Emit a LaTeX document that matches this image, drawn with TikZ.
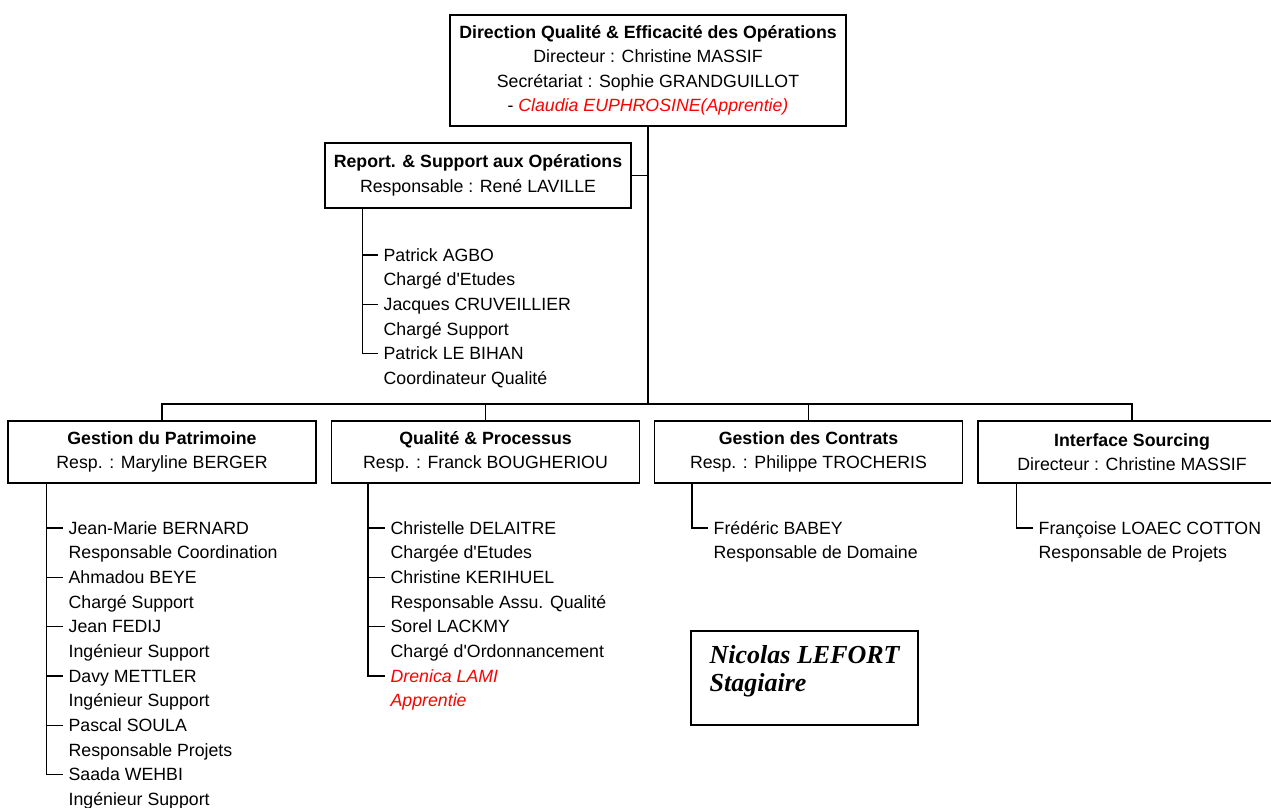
\documentclass[tikz,border=0pt]{standalone}
\usepackage{fontspec}
\newfontfamily\arial{Liberation Sans}
\newfontfamily\tnr{Liberation Serif}
\begin{document}
\begin{tikzpicture}[x=0.75pt,y=-0.75pt,line width=1pt]
\tikzset{
 txt/.style={font=\arial\fontsize{13.3}{18.4}\selectfont},
 box/.style={draw, txt, inner sep=0pt, align=center, minimum height=46.5pt, minimum width=231pt},
 mem/.style={txt, anchor=west, inner xsep=3.75pt, inner ysep=0pt, text height=9.5pt, text depth=0pt},
 app/.style={mem, text=red, font=\arial\fontsize{13.3}{18.4}\selectfont\itshape},
 link/.style={draw=black, line width=1pt}
}
\useasboundingbox (0,0) rectangle (1271,807);
\fill[white] (0,0) rectangle (1271,807);

% main boxes
\node[box, minimum width=297pt, minimum height=83.25pt] (dir) at (648,70.5)
 {\textbf{Direction Qualité \& Efficacité des Opérations}\\ Directeur : Christine MASSIF\\ Secrétariat : Sophie GRANDGUILLOT\\ - {\color{red}\itshape Claudia EUPHROSINE(Apprentie)}};
\node[box, minimum width=229.5pt, minimum height=48.75pt] (rep) at (478,175.5)
 {\textbf{Report. \& Support aux Opérations}\\ Responsable : René LAVILLE};
\node[box] (gp) at (162,452) {\textbf{Gestion du Patrimoine}\\ Resp. : Maryline BERGER};
\node[box] (qp) at (485.5,452) {\textbf{Qualité \& Processus}\\ Resp. : Franck BOUGHERIOU};
\node[box] (gc) at (808.5,452) {\textbf{Gestion des Contrats}\\ Resp. : Philippe TROCHERIS};
\node[box] (is) at (1132,452) {\textbf{Interface Sourcing}\\ Directeur : Christine MASSIF};

% hierarchy connectors
\coordinate (bus) at (648,404);
\draw[link] (dir.south) -- (bus);
\draw[link] (rep.east) -- (rep.east -| dir.south);
\draw[link] (gp.north) |- (bus) -| (is.north);
\draw[link] (qp.north) -- (qp.north |- bus);
\draw[link] (gc.north) -- (gc.north |- bus);

% Report members
\node[mem] (r1) at (378,255) {Patrick AGBO};
\node[mem] (r1b) at (378,279.6) {Chargé d'Etudes};
\node[mem] (r2) at (378,304.2) {Jacques CRUVEILLIER};
\node[mem] (r2b) at (378,328.8) {Chargé Support};
\node[mem] (r3) at (378,353.4) {Patrick LE BIHAN};
\node[mem] (r3b) at (378,378) {Coordinateur Qualité};
\coordinate (rv) at ([xshift=28.5pt]rep.south west);
\draw[link] (rv) |- (r3.west);
\draw[link] (rv |- r1.west) -- (r1.west);
\draw[link] (rv |- r2.west) -- (r2.west);

% Gestion du Patrimoine members
\node[mem] (p1) at (63,528) {Jean-Marie BERNARD};
\node[mem] (p1b) at (63,552.65) {Responsable Coordination};
\node[mem] (p2) at (63,577.3) {Ahmadou BEYE};
\node[mem] (p2b) at (63,601.95) {Chargé Support};
\node[mem] (p3) at (63,626.6) {Jean FEDIJ};
\node[mem] (p3b) at (63,651.25) {Ingénieur Support};
\node[mem] (p4) at (63,675.9) {Davy METTLER};
\node[mem] (p4b) at (63,700.55) {Ingénieur Support};
\node[mem] (p5) at (63,725.2) {Pascal SOULA};
\node[mem] (p5b) at (63,749.85) {Responsable Projets};
\node[mem] (p6) at (63,774.5) {Saada WEHBI};
\node[mem] (p6b) at (63,799.15) {Ingénieur Support};
\coordinate (pv) at ([xshift=29.25pt]gp.south west);
\draw[link] (pv) |- (p6.west);
\foreach \n in {p1,p2,p3,p4,p5} \draw[link] (pv |- \n.west) -- (\n.west);

% Qualite & Processus members
\node[mem] (q1) at (385,528) {Christelle DELAITRE};
\node[mem] (q1b) at (385,552.65) {Chargée d'Etudes};
\node[mem] (q2) at (385,577.3) {Christine KERIHUEL};
\node[mem] (q2b) at (385,601.95) {Responsable Assu. Qualité};
\node[mem] (q3) at (385,626.6) {Sorel LACKMY};
\node[mem] (q3b) at (385,651.25) {Chargé d'Ordonnancement};
\node[app] (q4) at (385,675.9) {Drenica LAMI};
\node[app] (q4b) at (385,700.55) {Apprentie};
\coordinate (qv) at ([xshift=27.75pt]qp.south west);
\draw[link] (qv) |- (q4.west);
\foreach \n in {q1,q2,q3} \draw[link] (qv |- \n.west) -- (\n.west);

% Gestion des Contrats members
\node[mem] (c1) at (708,528) {Frédéric BABEY};
\node[mem] (c1b) at (708,552.65) {Responsable de Domaine};
\coordinate (cv) at ([xshift=28.5pt]gc.south west);
\draw[link] (cv) |- (c1.west);

% Interface Sourcing members
\node[mem] (i1) at (1033,528) {Françoise LOAEC COTTON};
\node[mem] (i1b) at (1033,552.65) {Responsable de Projets};
\coordinate (iv) at ([xshift=29.25pt]is.south west);
\draw[link] (iv) |- (i1.west);

% Stagiaire box
\node[draw, line width=1.2pt, minimum width=170.25pt, minimum height=70.5pt, inner sep=0pt] (nb) at (804.5,678) {};
\node[font=\tnr\bfseries\itshape\fontsize{19.5}{21}\selectfont, align=left, anchor=west, inner sep=0pt] (nl) at (709,671) {Nicolas LEFORT\\Stagiaire};
\end{tikzpicture}
\end{document}
